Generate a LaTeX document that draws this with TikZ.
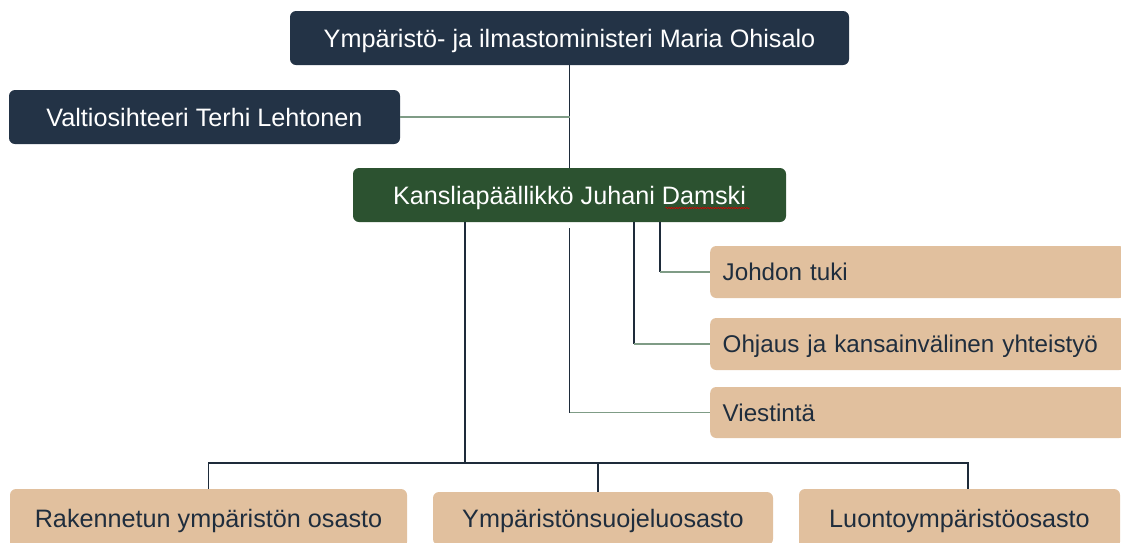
\documentclass[tikz,border=0pt]{standalone}
\usepackage{fontspec}
\setmainfont{Liberation Sans}
\usetikzlibrary{decorations.pathmorphing}
\definecolor{navy}{HTML}{233346}
\definecolor{kgreen}{HTML}{2C5230}
\definecolor{tan}{HTML}{E1C09E}
\definecolor{darkline}{HTML}{1E2B3A}
\definecolor{greenline}{HTML}{7F9C86}
\definecolor{tantext}{HTML}{1F2D3D}
\tikzset{
  base/.style={rectangle, rounded corners=6pt, inner sep=0pt,
    font=\fontsize{25.2}{30}\selectfont, text height=18pt, text depth=0pt},
  navybox/.style={base, fill=navy, text=white},
  greenbox/.style={base, fill=kgreen, text=white},
  tanbox/.style={base, fill=tan, text=tantext},
  sidebox/.style={tanbox, anchor=west, minimum width=415pt, inner xsep=12.5pt, text width=390pt, align=left,
    font=\fontsize{24.2}{29}\selectfont, text height=17.3pt},
  dline/.style={draw=darkline, line width=1.5pt},
  gline/.style={draw=greenline, line width=1.6pt},
}
\begin{document}
\begin{tikzpicture}[x=1pt,y=-1pt]
\useasboundingbox (0,0) rectangle (1121,542);
\clip (0,0) rectangle (1121,542);
% boxes
\node[navybox, minimum width=559pt, minimum height=54pt] (min) at (569.5,38) {Ympäristö- ja ilmastoministeri Maria Ohisalo};
\node[navybox, minimum width=391pt, minimum height=54pt] (val) at (204.5,117) {Valtiosihteeri Terhi Lehtonen};
\node[greenbox, minimum width=433pt, minimum height=54pt] (kans) at (569.5,195) {Kansliapäällikkö Juhani Damski};
\node[sidebox, minimum height=52pt] (joh) at (710,272) {Johdon tuki};
\node[sidebox, minimum height=52pt, minimum width=410pt] (ohj) at (710,344) {Ohjaus ja kansainvälinen yhteistyö};
\node[sidebox, minimum height=51pt] (vie) at (710,412.5) {Viestintä};
\node[tanbox, minimum width=397pt, minimum height=59pt] (rak) at (208.5,518.5) {Rakennetun ympäristön osasto};
\node[tanbox, minimum width=340pt, minimum height=53pt] (ymp) at (603,518.5) {Ympäristönsuojeluosasto};
\node[tanbox, minimum width=321pt, minimum height=59pt] (luo) at (959.5,518.5) {Luontoympäristöosasto};
% spell-check underline
\draw[red!85!black, line width=0.6pt, decorate, decoration={snake, amplitude=0.7pt, segment length=2.6pt}]
  ([xshift=96pt,yshift=-13pt]kans.center) -- ([xshift=180pt,yshift=-13pt]kans.center);
% connectors
\draw[dline] (min.south) -- (kans.north);
\draw[gline] (val.east) -- (val.east -| min.south);
\coordinate (bus) at (465,463);
\coordinate (ympin) at ([xshift=-5pt]ymp.north);
\coordinate (luoin) at ([xshift=8.5pt]luo.north);
\draw[dline] (kans.south -| bus) -- (bus);
\draw[dline] (rak.north) -- (rak.north |- bus) -- (bus -| luoin) -- (luoin);
\draw[dline] (bus -| ympin) -- (ympin);
\coordinate (jt) at ([xshift=307pt]kans.south west);
\coordinate (oj) at ([xshift=281pt]kans.south west);
\coordinate (vi) at ([yshift=-6pt]kans.south);
\draw[dline] (jt) -- (jt |- joh.west);
\draw[gline] (jt |- joh.west) -- (joh.west);
\draw[dline] (oj) -- (oj |- ohj.west);
\draw[gline] (oj |- ohj.west) -- (ohj.west);
\draw[dline] (vi) -- (vi |- vie.west);
\draw[gline] (vi |- vie.west) -- (vie.west);
\end{tikzpicture}
\end{document}
